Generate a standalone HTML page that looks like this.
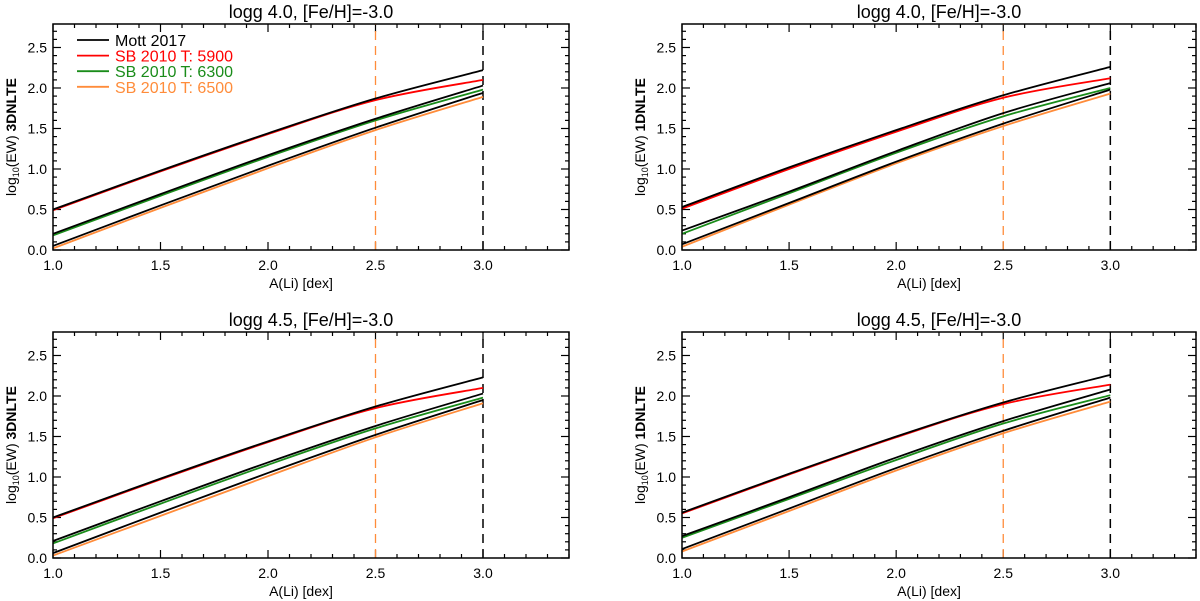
<!DOCTYPE html>
<html><head><meta charset="utf-8">
<style>
html,body{margin:0;padding:0;background:#fff;}
svg{display:block;font-family:"Liberation Sans",Arial,sans-serif;}
</style></head>
<body>
<svg id="fig" width="1200" height="601" viewBox="0 0 1200 601"></svg>
<script>
const xVals = [1.0, 1.5, 2.0, 2.5, 3.0];
const xTicks = [1.0, 1.5, 2.0, 2.5, 3.0];
const yTicks = [0.0, 0.5, 1.0, 1.5, 2.0, 2.5];
const panelTitles = ["logg 4.0, [Fe/H]=-3.0", "logg 4.0, [Fe/H]=-3.0", "logg 4.5, [Fe/H]=-3.0", "logg 4.5, [Fe/H]=-3.0"];
const panelYLabels = ["3DNLTE", "1DNLTE", "3DNLTE", "1DNLTE"];
const legendLabels = ["Mott 2017", "SB 2010 T: 5900", "SB 2010 T: 6300", "SB 2010 T: 6500"];
const vlineOrange = 2.5;
const vlineBlack = 3.0;
const p1Mott1 = [0.50, 0.98, 1.44, 1.87, 2.22];
const p1Mott2 = [0.20, 0.69, 1.17, 1.62, 2.03];
const p1Mott3 = [0.05, 0.55, 1.04, 1.51, 1.94];
const p1Sb5900 = [0.49, 0.97, 1.43, 1.85, 2.10];
const p1Sb6300 = [0.18, 0.67, 1.15, 1.60, 1.98];
const p1Sb6500 = [0.02, 0.52, 1.01, 1.48, 1.89];
const p2Mott1 = [0.53, 1.02, 1.48, 1.91, 2.26];
const p2Mott2 = [0.24, 0.72, 1.22, 1.69, 2.06];
const p2Mott3 = [0.07, 0.58, 1.09, 1.56, 1.98];
const p2Sb5900 = [0.51, 1.00, 1.46, 1.88, 2.12];
const p2Sb6300 = [0.20, 0.70, 1.20, 1.65, 2.00];
const p2Sb6500 = [0.04, 0.56, 1.07, 1.53, 1.93];
const p3Mott1 = [0.50, 0.98, 1.44, 1.87, 2.23];
const p3Mott2 = [0.21, 0.70, 1.18, 1.63, 2.03];
const p3Mott3 = [0.06, 0.56, 1.05, 1.52, 1.95];
const p3Sb5900 = [0.49, 0.97, 1.43, 1.85, 2.10];
const p3Sb6300 = [0.18, 0.67, 1.15, 1.60, 1.98];
const p3Sb6500 = [0.03, 0.52, 1.01, 1.49, 1.91];
const p4Mott1 = [0.56, 1.04, 1.50, 1.92, 2.26];
const p4Mott2 = [0.27, 0.75, 1.24, 1.69, 2.08];
const p4Mott3 = [0.11, 0.61, 1.11, 1.57, 1.98];
const p4Sb5900 = [0.55, 1.03, 1.49, 1.90, 2.14];
const p4Sb6300 = [0.25, 0.73, 1.21, 1.66, 2.01];
const p4Sb6500 = [0.08, 0.58, 1.08, 1.54, 1.93];

const panelSeries = [
  [p1Mott1,p1Mott2,p1Mott3,p1Sb5900,p1Sb6300,p1Sb6500],
  [p2Mott1,p2Mott2,p2Mott3,p2Sb5900,p2Sb6300,p2Sb6500],
  [p3Mott1,p3Mott2,p3Mott3,p3Sb5900,p3Sb6300,p3Sb6500],
  [p4Mott1,p4Mott2,p4Mott3,p4Sb5900,p4Sb6300,p4Sb6500]
];
const seriesColors = ["#000","#000","#000","#ff0000","#1a8c1a","#ff8c3a"];
const seriesNames = ["mott-2017-upper","mott-2017-middle","mott-2017-lower","sb2010-5900","sb2010-6300","sb2010-6500"];
const legendColors = ["#000","#ff0000","#1a8c1a","#ff8c3a"];

const boxes = [
  {l:53,r:569,t:24,b:250},
  {l:682,r:1196,t:24,b:250},
  {l:53,r:569,t:332,b:558},
  {l:682,r:1196,t:332,b:558}
];
const NS="http://www.w3.org/2000/svg";
const svg=document.getElementById('fig');
function mk(tag,attrs,parent){const e=document.createElementNS(NS,tag);for(const k in attrs)e.setAttribute(k,attrs[k]);(parent||svg).appendChild(e);return e;}

boxes.forEach((B,pi)=>{
  const g=mk('g',{});
  
  
  const xs=v=>B.l+(v-1.0)/(3.4-1.0)*(B.r-B.l);
  const ys=v=>B.b-(v/2.79)*(B.b-B.t);
  for(let i=0;i<=24;i++){
    const v=1.0+i*0.1, x=xs(v), major=(i%5===0), L=major?8:4;
    const t1=mk('line',{x1:x,x2:x,y1:B.b,y2:B.b-L,stroke:'#000','stroke-width':1.2},g);
    
    
    mk('line',{x1:x,x2:x,y1:B.t,y2:B.t+L,stroke:'#000','stroke-width':1.2},g);
  }
  for(let i=0;i<=27;i++){
    const v=i*0.1, y=ys(v), major=(i%5===0), L=major?8:4;
    const t2=mk('line',{x1:B.l,x2:B.l+L,y1:y,y2:y,stroke:'#000','stroke-width':1.2},g);
    
    
    mk('line',{x1:B.r,x2:B.r-L,y1:y,y2:y,stroke:'#000','stroke-width':1.2},g);
  }
  xTicks.forEach(v=>{
    const t=mk('text',{x:xs(v),y:B.b+20,'font-size':14,'text-anchor':'middle'},g);
    t.textContent=v.toFixed(1);
    
    
  });
  yTicks.forEach(v=>{
    const t=mk('text',{x:B.l-6,y:ys(v)+5,'font-size':14,'text-anchor':'end'},g);
    t.textContent=v.toFixed(1);
    
    
  });
  const vo=mk('line',{x1:xs(vlineOrange),x2:xs(vlineOrange),y1:B.b,y2:B.t,stroke:'#ff8c3a','stroke-width':1.3,'stroke-dasharray':'9,6'},g);
  
  
  const vb=mk('line',{x1:xs(vlineBlack),x2:xs(vlineBlack),y1:B.b,y2:B.t,stroke:'#000','stroke-width':1.5,'stroke-dasharray':'9,6'},g);
  
  
  const order=[3,4,5,0,1,2];
  order.forEach(si=>{
    const vals=panelSeries[pi][si];
    const pts=xVals.map((x,i)=>[xs(x),ys(vals[i])]);
    let d='M'+pts[0][0]+','+pts[0][1];
    for(let i=0;i<pts.length-1;i++){
      const p0=pts[Math.max(0,i-1)],p1=pts[i],p2=pts[i+1],p3=pts[Math.min(pts.length-1,i+2)];
      const c1=[p1[0]+(p2[0]-p0[0])/6,p1[1]+(p2[1]-p0[1])/6];
      const c2=[p2[0]-(p3[0]-p1[0])/6,p2[1]-(p3[1]-p1[1])/6];
      d+=' C'+c1[0]+','+c1[1]+' '+c2[0]+','+c2[1]+' '+p2[0]+','+p2[1];
    }
    const p=mk('path',{d:d,fill:'none',stroke:seriesColors[si],'stroke-width':1.8},g);
    
    
  });
  const fr=mk('rect',{x:B.l,y:B.t,width:B.r-B.l,height:B.b-B.t,fill:'none',stroke:'#000','stroke-width':1.5},g);
  
  
  const ti=mk('text',{x:(B.l+B.r)/2,y:B.t-6,'font-size':18,'text-anchor':'middle'},g);
  ti.textContent=panelTitles[pi];
  
  
  const xt=mk('text',{x:(B.l+B.r)/2-10,y:B.b+38,'font-size':14,'text-anchor':'middle'},g);
  xt.textContent='A(Li) [dex]';
  
  
  const yx=B.l-37, yy=(B.t+B.b)/2;
  const yt=mk('text',{x:yx,y:yy,'font-size':14,'text-anchor':'middle',transform:'rotate(-90 '+yx+' '+yy+')'},g);
  yt.innerHTML='log<tspan font-size="9" dy="3">10</tspan><tspan dy="-3">(EW) </tspan><tspan font-weight="bold">'+panelYLabels[pi]+'</tspan>';
  
  
  if(pi===0){
    const lg=mk('g',{},g);
    
    
    legendLabels.forEach((lab,i)=>{
      const y=40+i*15.6;
      const e=mk('g',{},lg);
      
      
      mk('line',{x1:77,x2:109,y1:y,y2:y,stroke:legendColors[i],'stroke-width':1.8},e);
      const t=mk('text',{x:115,y:y+6,'font-size':16,fill:legendColors[i]},e);
      t.textContent=lab;
    });
  }
});
</script>
</body></html>
